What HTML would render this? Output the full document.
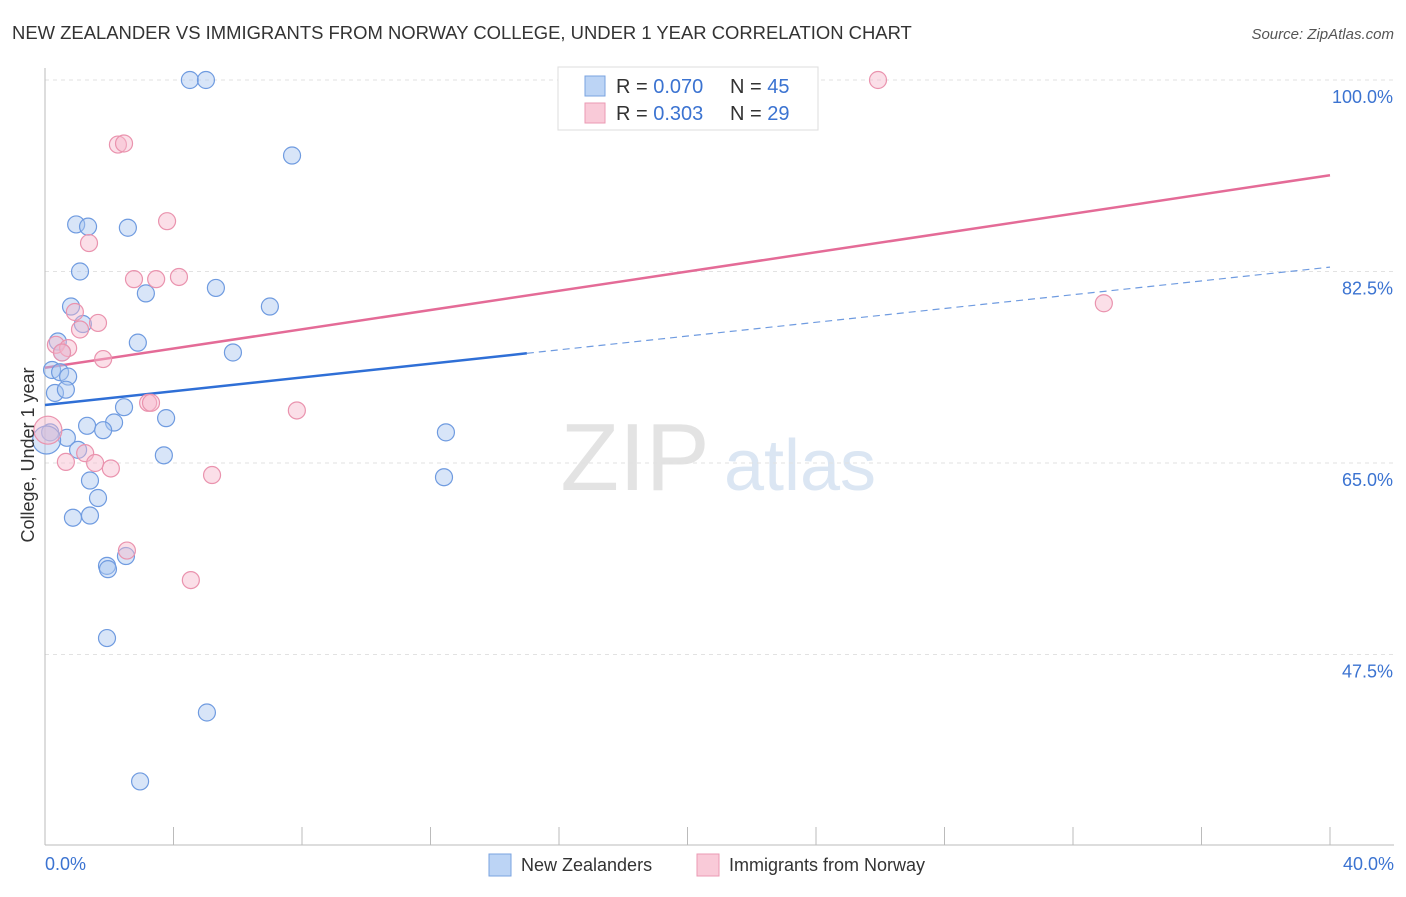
<!DOCTYPE html>
<html><head><meta charset="utf-8"><style>
body{margin:0;background:#fff;font-family:"Liberation Sans",sans-serif;}
svg text{font-family:"Liberation Sans",sans-serif;}
</style></head><body>
<svg id="chart" width="1406" height="892">
<text x="12" y="39" font-size="18.45" fill="#333">NEW ZEALANDER VS IMMIGRANTS FROM NORWAY COLLEGE, UNDER 1 YEAR CORRELATION CHART</text>
<text x="1394" y="39" font-size="15" fill="#555" font-style="italic" text-anchor="end">Source: ZipAtlas.com</text>
<g><text x="635" y="490" font-size="96" fill="#e3e3e3" font-family="Liberation Serif" text-anchor="middle">ZIP</text><text x="800" y="490" font-size="72" fill="#dbe6f3" text-anchor="middle">atlas</text></g>
<g id="grid"></g><g id="axes"></g><g id="lines"></g><g id="dots"></g>
<text transform="translate(34,455) rotate(-90)" font-size="18" fill="#333" text-anchor="middle">College, Under 1 year</text>
<text x="45" y="870" font-size="18" fill="#3b73d1">0.0%</text>
<text x="1394" y="870" font-size="18" fill="#3b73d1" text-anchor="end">40.0%</text>
<g>
<rect x="558" y="67" width="260" height="63" fill="#fff" stroke="#ddd"/>
<rect x="585" y="76" width="20" height="20" fill="#bcd4f5" stroke="#7aa3e0"/>
<rect x="585" y="103" width="20" height="20" fill="#f9cad8" stroke="#eb9ab3"/>
<text x="616" y="93" font-size="20" fill="#333">R = <tspan fill="#3b73d1">0.070</tspan></text>
<text x="730" y="93" font-size="20" fill="#333">N = <tspan fill="#3b73d1">45</tspan></text>
<text x="616" y="120" font-size="20" fill="#333">R = <tspan fill="#3b73d1">0.303</tspan></text>
<text x="730" y="120" font-size="20" fill="#333">N = <tspan fill="#3b73d1">29</tspan></text>
</g>
<g>
<rect x="489" y="854" width="22" height="22" fill="#bcd4f5" stroke="#7aa3e0"/>
<text x="521" y="871" font-size="18" fill="#333">New Zealanders</text>
<rect x="697" y="854" width="22" height="22" fill="#f9cad8" stroke="#eb9ab3"/>
<text x="729" y="871" font-size="18" fill="#333">Immigrants from Norway</text>
</g>
</svg>
<script>
const yTicks=[100,82.5,65,47.5];
const blueX=[4.51,5.01,7.69,0.97,1.34,2.58,1.09,3.14,5.32,7.00,0.81,1.18,0.40,2.89,5.85,0.53,0.22,0.47,0.72,0.31,0.65,2.46,3.77,1.31,2.15,1.81,0.68,0.16,0.05,1.03,3.70,12.48,12.42,1.40,1.65,0.87,1.40,1.93,1.96,2.52,1.93,5.04,2.96];
const blueY=[100,100,93.1,86.8,86.6,86.5,82.5,80.5,81.0,79.3,79.3,77.7,76.1,76.0,75.1,75.1,73.5,73.3,72.9,71.4,71.7,70.1,69.1,68.4,68.7,68.0,67.3,67.8,67.1,66.2,65.7,67.8,63.7,63.4,61.8,60.0,60.2,55.6,55.3,56.5,49.0,42.2,35.9];
const pinkX=[25.93,2.27,2.46,3.80,1.37,2.77,3.46,4.17,32.96,0.93,1.65,1.09,0.34,0.72,0.53,1.81,3.21,3.30,7.84,0.09,0.65,1.25,1.56,2.05,5.20,2.55,4.54];
const pinkY=[100,94.1,94.2,87.1,85.1,81.8,81.8,82.0,79.6,78.8,77.8,77.2,75.8,75.5,75.1,74.5,70.5,70.5,69.8,68.0,65.1,65.9,65.0,64.5,63.9,57.0,54.3];
const blueTrend=[70.3,82.9];
const pinkTrend=[73.7,91.3];
const NS='http://www.w3.org/2000/svg';
const X=v=>45+v/40*1285, Y=v=>80+(100-v)*191.5/17.5;
function mk(p,t,a){const e=document.createElementNS(NS,t);for(const k in a)e.setAttribute(k,a[k]);document.getElementById(p).appendChild(e);return e;}
yTicks.forEach(t=>{
 const l=mk('grid','line',{x1:45,x2:1394,y1:Y(t),y2:Y(t),stroke:'#e2e2e2','stroke-dasharray':'4,4'});
 
 
 const tx=mk('grid','text',{x:1393,y:Y(t)+23,'font-size':18,fill:'#3b73d1','text-anchor':'end'});
 tx.textContent=t.toFixed(1)+'%';
 
 
});
const ax=mk('axes','line',{x1:45,x2:45,y1:68,y2:845,stroke:'#bbb'});


const bx=mk('axes','line',{x1:45,x2:1394,y1:845,y2:845,stroke:'#bbb'});


for(let i=0;i<=10;i++){const t=mk('axes','line',{x1:X(i*4),x2:X(i*4),y1:827,y2:845,stroke:'#bbb'});
 
 }
function dot(x,y,c,s,r){const e=mk('dots','circle',{cx:X(x),cy:Y(y),r:r,fill:c,'fill-opacity':0.45,stroke:s,'stroke-width':1.2});return e;}
blueX.forEach((x,i)=>{const e=dot(x,blueY[i],'#a9c6f0','#6f9be0',i==28?14:8.5);
 
 });
pinkX.forEach((x,i)=>{const e=dot(x,pinkY[i],'#f6b8cb','#ea93ae',i==19?14:8.5);
 
 });
const bAt=v=>blueTrend[0]+(blueTrend[1]-blueTrend[0])*v/40;
const l1=mk('lines','line',{x1:X(0),y1:Y(bAt(0)),x2:X(15),y2:Y(bAt(15)),stroke:'#2f6fd6','stroke-width':2.5});


const l2=mk('lines','line',{x1:X(15),y1:Y(bAt(15)),x2:X(40),y2:Y(bAt(40)),stroke:'#6f9be0','stroke-width':1.2,'stroke-dasharray':'7,5'});


const l3=mk('lines','line',{x1:X(0),y1:Y(pinkTrend[0]),x2:X(40),y2:Y(pinkTrend[1]),stroke:'#e46b97','stroke-width':2.5});


</script>
</body></html>
